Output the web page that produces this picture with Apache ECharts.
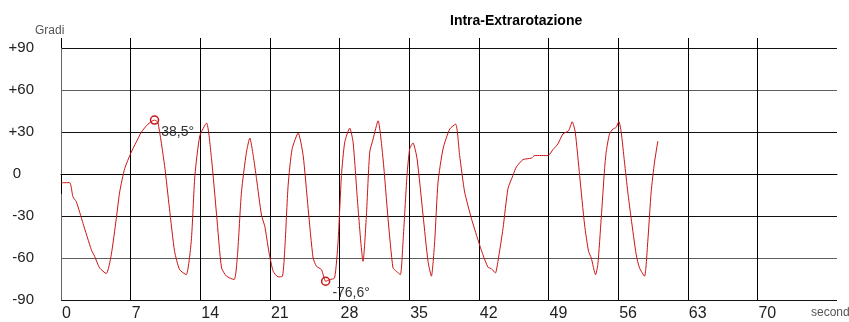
<!DOCTYPE html>
<html>
<head>
<meta charset="utf-8">
<script src="https://cdn.jsdelivr.net/npm/echarts@6/dist/echarts.min.js"></script>
<style>
  html, body { margin: 0; padding: 0; background: #fff; }
  #chart { width: 849px; height: 322px; }
</style>
</head>
<body>
<div id="chart"></div>
<script>
// Rotation angle (degrees) sampled over time (seconds)
const times = [
  0, 0.87, 1.2, 1.54, 2.21, 3.05, 3.38, 3.88, 4.55, 5.05, 5.56, 5.9, 6.4, 7.06, 7.56, 8.07, 8.74, 9.4, 9.74,
  10.41, 10.9, 11.42, 11.92, 12.58, 13.09, 13.46, 13.96, 14.63, 15.13, 15.64, 16.14, 16.64, 17.4, 17.74,
  18.14, 18.64, 18.98, 19.32, 19.65, 20.15, 20.49, 20.89, 21.33, 21.83, 22.26, 22.5, 22.83, 23.23, 23.84,
  24.34, 24.84, 25.34, 25.68, 26.18, 26.6, 27.0, 27.5, 27.85, 28.19, 28.52, 29.02, 29.36, 29.86, 30.36,
  30.7, 31.03, 31.37, 31.87, 32.37, 32.87, 33.37, 33.71, 34.11, 34.38, 34.78, 35.05, 35.38, 35.79, 36.39,
  36.89, 37.23, 37.56, 37.9, 38.4, 39.07, 39.67, 40.07, 40.57, 41.25, 41.91, 42.41, 42.92, 43.26, 43.66,
  43.92, 44.43, 44.93, 45.43, 45.77, 46.44, 47.28, 47.61, 48.95, 49.45, 49.95, 50.45, 51.02, 51.39, 51.69,
  52.13, 52.63, 53.03, 53.3, 53.73, 53.96, 54.3, 54.64, 54.8, 55.13, 55.47, 55.8, 56.07, 56.31, 56.64,
  56.97, 57.31, 57.82, 58.15, 58.65, 58.98, 59.32, 59.66, 59.99
];
const angles = [
  -6.2, -6.2, -16.3, -19.8, -35.2, -54.1, -58.8, -67.1, -71.1, -57.7, -31.7, -12.8, 3.8, 15.6, 22.7, 29.8, 35.6, 38.5, 36.8,
  6.1, -24.6, -55.3, -68.3, -71.9, -48.2, -1, 27.4, 36.4, 10.8, -29.3, -67.1, -73, -75.4, -57.7,
  -12.8, 15.6, 25.7, 13.2, -3.3, -29.3, -37.6, -55.3, -69.5, -73.5, -73, -52.9, -8.1, 17.9, 29.3,
  13.2, -24.6, -60, -65.9, -68.3, -76.6, -75.5, -74.2, -48.2, -1, 22.7, 32.8, 22.7, -24.6, -62.4,
  -29.3, 15.6, 25, 38, 10.8, -31.7, -67.1, -69.5, -71.9, -48.2, -1, 17.9, 22.2, 10.8, -29.3,
  -62.4, -73, -48.2, -5.7, 17.9, 32.1, 35.6, 13.2, -12.8, -31.7, -47, -57.7, -66.6, -67.6, -70.7,
  -62.4, -38.8, -10.4, -1, 5, 10.3, 11.3, 13.2, 13.2, 17.4, 21.5, 28.6, 30.9, 37.3, 29.8,
  -1, -36.4, -55.3, -60, -71.9, -64.8, -31.7, 3.8, 15.6, 28.6, 32.1, 33.3, 37.6, 29.8, 8.5,
  -12.8, -31.7, -57.7, -67.1, -73, -48.2, -12.8, 8.5, 23.4
];
const xTicks = [0, 7, 14, 21, 28, 35, 42, 49, 56, 63, 70];
const chartTitle = 'Intra-Extrarotazione';
const yName = 'Gradi';
const xName = 'second';

const FONT = '"Liberation Sans", Arial, sans-serif';
const RED = '#cc1414';

const chart = echarts.init(document.getElementById('chart'), null, { renderer: 'canvas' });

const fmtDeg = v => v.toFixed(1).replace('.', ',') + '\u00b0';

chart.setOption({
  animation: false,
  backgroundColor: '#fff',
  textStyle: { fontFamily: FONT },
  title: {
    text: chartTitle,
    left: 445,
    top: 9,
    textStyle: { fontFamily: FONT, fontSize: 14, fontWeight: 'bold', color: '#000' }
  },
  grid: { left: 61, right: 12, top: 48, bottom: 20, containLabel: false },
  xAxis: [
    {
      type: 'value',
      position: 'bottom',
      min: 0,
      max: 78,
      interval: 7,
      axisLine: { show: true, lineStyle: { color: '#000', width: 1 } },
      axisTick: { show: true, customValues: xTicks, length: 20, lineStyle: { color: '#000', width: 1 } },
      axisLabel: {
        customValues: xTicks,
        align: 'left',
        margin: 6,
        padding: [0, 0, 0, 1],
        fontFamily: FONT,
        fontSize: 16,
        color: '#222'
      },
      splitLine: { show: true, lineStyle: { color: '#000', width: 1 } }
    },
    {
      type: 'value',
      position: 'top',
      min: 0,
      max: 78,
      interval: 7,
      axisLine: { show: false },
      axisTick: { show: true, customValues: xTicks, length: 10, lineStyle: { color: '#000', width: 1 } },
      axisLabel: { show: false },
      splitLine: { show: false }
    }
  ],
  yAxis: {
    type: 'value',
    min: -90,
    max: 90,
    interval: 30,
    axisLine: { show: true, lineStyle: { color: '#666', width: 1 } },
    axisTick: { show: false },
    axisLabel: {
      margin: 27,
      fontFamily: FONT,
      fontSize: 15,
      color: '#222',
      formatter: v => (v > 0 ? '+' + v : v === 0 ? '{z|0}' : String(v)),
      rich: { z: { fontFamily: FONT, fontSize: 15, color: '#222', padding: [0, 13, 0, 0] } }
    },
    splitLine: { show: true, lineStyle: { color: ['#111', '#5e5e5e'], width: 1 } }
  },
  graphic: [
    { type: 'text', left: 35, top: 25, style: { text: yName, font: '12px ' + FONT, fill: '#555' } },
    { type: 'text', left: 811, top: 307, style: { text: xName, font: '12px ' + FONT, fill: '#555' } }
  ],
  series: [
    {
      type: 'line',
      xAxisIndex: 0,
      yAxisIndex: 0,
      data: times.map((t, i) => [t, angles[i]]),
      showSymbol: false,
      symbol: 'none',
      smooth: 0.2,
      lineStyle: { color: RED, width: 1 },
      markPoint: {
        symbol: 'circle',
        symbolSize: 8,
        itemStyle: { color: 'rgba(255,255,255,0)', borderColor: RED, borderWidth: 1.5 },
        label: {
          show: true,
          position: 'right',
          distance: 2,
          offset: [0, 12],
          fontFamily: FONT,
          fontSize: 14,
          color: '#333',
          formatter: p => fmtDeg(p.value)
        },
        data: [{ type: 'max' }, { type: 'min' }]
      }
    }
  ]
});
</script>
</body>
</html>
